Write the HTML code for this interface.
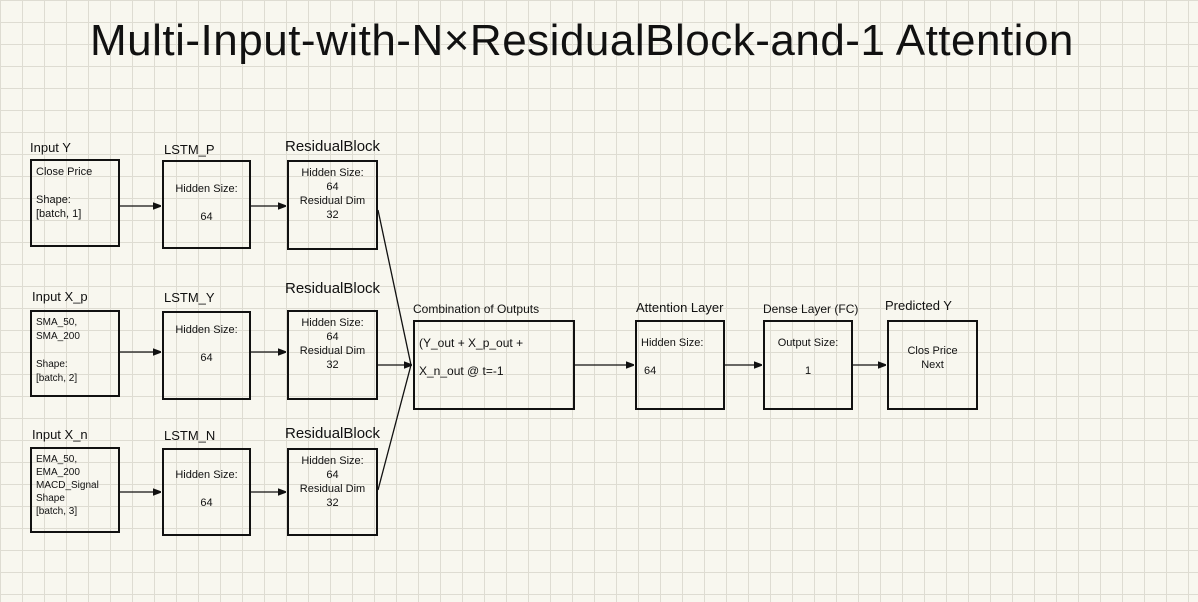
<!DOCTYPE html>
<html><head><style>
body{margin:0;width:1198px;height:602px;overflow:hidden;background:#f8f7ef;
background-image:linear-gradient(#dedcd2 1px,transparent 1px),linear-gradient(90deg,#dedcd2 1px,transparent 1px);
background-size:22px 22px;font-family:"Liberation Sans",sans-serif;color:#111;position:relative}
.b{position:absolute;border:2.5px solid #111;box-sizing:border-box;font-size:11px;line-height:14px;padding:4px}
.l{position:absolute;font-size:13px;white-space:nowrap}
.c{text-align:center}
</style></head><body>
<div class="l" style="left:90px;top:16px;font-size:44px;letter-spacing:0.5px">Multi-Input-with-N×ResidualBlock-and-1 Attention</div>
<svg width="1198" height="602" style="position:absolute;left:0;top:0" fill="none" stroke="#111" stroke-width="1.3">
<defs><marker id="a" markerWidth="8" markerHeight="8" refX="7" refY="4" orient="auto" markerUnits="userSpaceOnUse"><path d="M0,1L8,4L0,7z" fill="#111"/></marker></defs>
<path d="M120 206H160" marker-end="url(#a)"/>
<path d="M251 206H285" marker-end="url(#a)"/>
<path d="M120 352H160" marker-end="url(#a)"/>
<path d="M251 352H285" marker-end="url(#a)"/>
<path d="M120 492H160" marker-end="url(#a)"/>
<path d="M251 492H285" marker-end="url(#a)"/>
<path d="M575 365H633" marker-end="url(#a)"/>
<path d="M725 365H761" marker-end="url(#a)"/>
<path d="M853 365H885" marker-end="url(#a)"/>
<path d="M378 210L411 365"/>
<path d="M378 365L411 365" marker-end="url(#a)"/>
<path d="M378 490L411 365"/>
</svg>
<div class="l" style="left:30px;top:140px">Input Y</div>
<div class="l" style="left:164px;top:142px">LSTM_P</div>
<div class="l" style="left:285px;top:138px;font-size:15px">ResidualBlock</div>
<div class="l" style="left:32px;top:289px">Input X_p</div>
<div class="l" style="left:164px;top:290px">LSTM_Y</div>
<div class="l" style="left:285px;top:280px;font-size:15px">ResidualBlock</div>
<div class="l" style="left:32px;top:427px">Input X_n</div>
<div class="l" style="left:164px;top:428px">LSTM_N</div>
<div class="l" style="left:285px;top:425px;font-size:15px">ResidualBlock</div>
<div class="l" style="left:413px;top:302px;font-size:12px">Combination of Outputs</div>
<div class="l" style="left:636px;top:300px">Attention Layer</div>
<div class="l" style="left:763px;top:302px;font-size:12px">Dense Layer (FC)</div>
<div class="l" style="left:885px;top:298px">Predicted Y</div>

<div class="b" style="left:30px;top:159px;width:90px;height:88px">Close Price<br><br>Shape:<br>[batch, 1]</div>
<div class="b c" style="left:162px;top:160px;width:89px;height:89px;padding-top:20px">Hidden Size:<br><br>64</div>
<div class="b c" style="left:287px;top:160px;width:91px;height:90px">Hidden Size:<br>64<br>Residual Dim<br>32</div>
<div class="b" style="left:30px;top:310px;width:90px;height:87px;font-size:10px">SMA_50, SMA_200<br><br>Shape:<br>[batch, 2]</div>
<div class="b c" style="left:162px;top:311px;width:89px;height:89px;padding-top:10px">Hidden Size:<br><br>64</div>
<div class="b c" style="left:287px;top:310px;width:91px;height:90px">Hidden Size:<br>64<br>Residual Dim<br>32</div>
<div class="b" style="left:30px;top:447px;width:90px;height:86px;font-size:10px;line-height:13px">EMA_50, EMA_200<br>MACD_Signal<br>Shape<br>[batch, 3]</div>
<div class="b c" style="left:162px;top:448px;width:89px;height:88px;padding-top:18px">Hidden Size:<br><br>64</div>
<div class="b c" style="left:287px;top:448px;width:91px;height:88px">Hidden Size:<br>64<br>Residual Dim<br>32</div>
<div class="b" style="left:413px;top:320px;width:162px;height:90px;font-size:12px;padding-top:14px">(Y_out + X_p_out +<br><br>X_n_out @ t=-1</div>
<div class="b" style="left:635px;top:320px;width:90px;height:90px;padding-top:14px">Hidden Size:<br><br>&nbsp;64</div>
<div class="b c" style="left:763px;top:320px;width:90px;height:90px;padding-top:14px">Output Size:<br><br>1</div>
<div class="b c" style="left:887px;top:320px;width:91px;height:90px;padding-top:22px">Clos Price<br>Next</div>
</body></html>
